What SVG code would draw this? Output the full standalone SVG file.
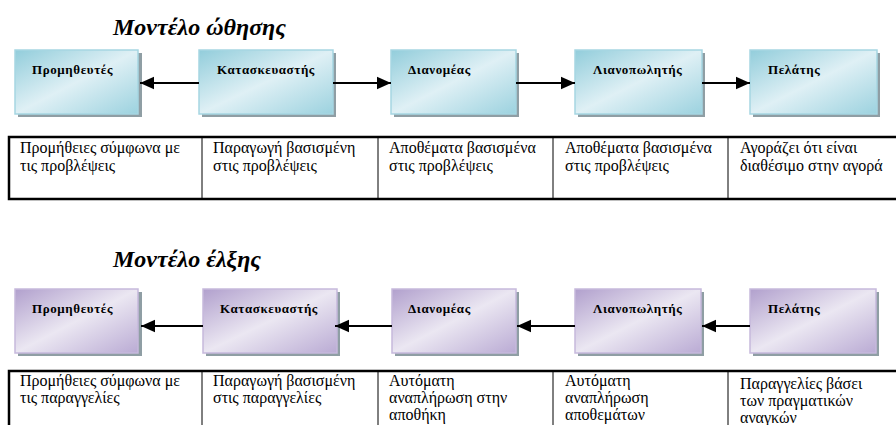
<svg xmlns="http://www.w3.org/2000/svg" width="896" height="425" viewBox="0 0 896 425">
  <defs>
    <linearGradient id="gBlue" x1="0" y1="0" x2="1" y2="1">
      <stop offset="0" stop-color="#92cddb"/>
      <stop offset="0.5" stop-color="#dff0f5"/>
      <stop offset="1" stop-color="#9cd2df"/>
    </linearGradient>
    <linearGradient id="gPurple" x1="0" y1="0" x2="1" y2="1">
      <stop offset="0" stop-color="#b1a0cd"/>
      <stop offset="0.5" stop-color="#ebe7f2"/>
      <stop offset="1" stop-color="#baabd4"/>
    </linearGradient>
    <marker id="arrow" viewBox="0 0 10 10" refX="10" refY="5" markerWidth="6.5" markerHeight="6.5" orient="auto" markerUnits="strokeWidth">
      <path d="M0,0.6 L10,5 L0,9.4 Z" fill="#000"/>
    </marker>
  </defs>
  <style>
    .title { font-family: "Liberation Serif", "DejaVu Serif", serif; font-size: 24px; font-weight: bold; font-style: italic; fill: #000; }
    .shadow { fill: #8f9ea4; }
    .blue { fill: url(#gBlue); stroke: #a6d6e2; stroke-width: 1.5; }
    .purple { fill: url(#gPurple); stroke: #c6b9dc; stroke-width: 1.5; }
    .lbl { font-family: "Liberation Serif", "DejaVu Serif", serif; font-size: 13px; font-weight: bold; letter-spacing: 0.6px; fill: #000; }
    .conn { stroke: #000; stroke-width: 2.2; fill: none; marker-end: url(#arrow); }
    .frame { stroke: #000; stroke-width: 2.5; fill: none; }
    .div { stroke: #000; stroke-width: 1; }
    .cell { font-family: "Liberation Serif", "DejaVu Serif", serif; font-size: 16px; fill: #000; }
  </style>

  <rect width="896" height="425" fill="#fff"/>

  <!-- Push model -->
  <text class="title" x="113" y="35">Μοντέλο ώθησης</text>

  <g id="push-supplier">
    <rect class="shadow" x="18" y="53" width="124" height="64"/>
    <rect class="blue" x="15" y="50" width="123" height="64"/>
    <text class="lbl" x="32" y="74">Προμηθευτές</text>
  </g>
  <g id="push-manufacturer">
    <rect class="shadow" x="202" y="53" width="134" height="64"/>
    <rect class="blue" x="199" y="50" width="134" height="64"/>
    <text class="lbl" x="217" y="74">Κατασκευαστής</text>
  </g>
  <g id="push-distributor">
    <rect class="shadow" x="394" y="53" width="125" height="64"/>
    <rect class="blue" x="391" y="50" width="125" height="64"/>
    <text class="lbl" x="408" y="74">Διανομέας</text>
  </g>
  <g id="push-retailer">
    <rect class="shadow" x="578" y="53" width="127" height="64"/>
    <rect class="blue" x="575" y="50" width="127" height="64"/>
    <text class="lbl" x="593" y="74">Λιανοπωλητής</text>
  </g>
  <g id="push-customer">
    <rect class="shadow" x="753" y="53" width="127" height="64"/>
    <rect class="blue" x="750" y="50" width="127" height="64"/>
    <text class="lbl" x="768" y="74">Πελάτης</text>
  </g>

  <g id="push-connectors">
    <line class="conn" x1="199" y1="83" x2="140" y2="83"/>
    <line class="conn" x1="333" y1="83" x2="391" y2="83"/>
    <line class="conn" x1="516" y1="83" x2="575" y2="83"/>
    <line class="conn" x1="702" y1="83" x2="750" y2="83"/>
  </g>

  <g id="push-table">
    <path class="frame" d="M896,137 H9 V199 H896"/>
    <line class="div" x1="202" y1="137" x2="202" y2="199"/>
    <line class="div" x1="378" y1="137" x2="378" y2="199"/>
    <line class="div" x1="553" y1="137" x2="553" y2="199"/>
    <line class="div" x1="728" y1="137" x2="728" y2="199"/>
    <text class="cell" x="20" y="153">Προμήθειες σύμφωνα με<tspan x="20" y="171">τις προβλέψεις</tspan></text>
    <text class="cell" x="213" y="153">Παραγωγή βασισμένη<tspan x="213" y="171">στις προβλέψεις</tspan></text>
    <text class="cell" x="389" y="153">Αποθέματα βασισμένα<tspan x="389" y="171">στις προβλέψεις</tspan></text>
    <text class="cell" x="565" y="153">Αποθέματα βασισμένα<tspan x="565" y="171">στις προβλέψεις</tspan></text>
    <text class="cell" x="740" y="153">Αγοράζει ότι είναι<tspan x="740" y="171">διαθέσιμο στην αγορά</tspan></text>
  </g>

  <!-- Pull model -->
  <text class="title" x="113" y="267">Μοντέλο έλξης</text>

  <g id="pull-supplier">
    <rect class="shadow" x="18" y="292" width="124" height="64"/>
    <rect class="purple" x="15" y="289" width="123" height="64"/>
    <text class="lbl" x="32" y="313">Προμηθευτές</text>
  </g>
  <g id="pull-manufacturer">
    <rect class="shadow" x="206" y="292" width="134" height="64"/>
    <rect class="purple" x="203" y="289" width="134" height="64"/>
    <text class="lbl" x="220" y="313">Κατασκευαστής</text>
  </g>
  <g id="pull-distributor">
    <rect class="shadow" x="395" y="292" width="124" height="64"/>
    <rect class="purple" x="392" y="289" width="124" height="64"/>
    <text class="lbl" x="408" y="313">Διανομέας</text>
  </g>
  <g id="pull-retailer">
    <rect class="shadow" x="578" y="292" width="126" height="64"/>
    <rect class="purple" x="575" y="289" width="126" height="64"/>
    <text class="lbl" x="593" y="313">Λιανοπωλητής</text>
  </g>
  <g id="pull-customer">
    <rect class="shadow" x="753" y="292" width="126" height="64"/>
    <rect class="purple" x="750" y="289" width="126" height="64"/>
    <text class="lbl" x="768" y="313">Πελάτης</text>
  </g>

  <g id="pull-connectors">
    <line class="conn" x1="203" y1="326" x2="141" y2="326"/>
    <line class="conn" x1="392" y1="326" x2="335" y2="326"/>
    <line class="conn" x1="575" y1="326" x2="517" y2="326"/>
    <line class="conn" x1="750" y1="326" x2="702" y2="326"/>
  </g>

  <g id="pull-table">
    <path class="frame" d="M896,371 H9 V425"/>
    <line class="div" x1="202" y1="371" x2="202" y2="425"/>
    <line class="div" x1="378" y1="371" x2="378" y2="425"/>
    <line class="div" x1="553" y1="371" x2="553" y2="425"/>
    <line class="div" x1="728" y1="371" x2="728" y2="425"/>
    <text class="cell" x="20" y="386">Προμήθειες σύμφωνα με<tspan x="20" y="403">τις παραγγελίες</tspan></text>
    <text class="cell" x="213" y="386">Παραγωγή βασισμένη<tspan x="213" y="403">στις παραγγελίες</tspan></text>
    <text class="cell" x="389" y="386">Αυτόματη<tspan x="389" y="403">αναπλήρωση στην</tspan><tspan x="389" y="420">αποθήκη</tspan></text>
    <text class="cell" x="565" y="386">Αυτόματη<tspan x="565" y="403">αναπλήρωση</tspan><tspan x="565" y="420">αποθεμάτων</tspan></text>
    <text class="cell" x="740" y="389">Παραγγελίες βάσει<tspan x="740" y="406">των πραγματικών</tspan><tspan x="740" y="423">αναγκών</tspan></text>
  </g>
</svg>
